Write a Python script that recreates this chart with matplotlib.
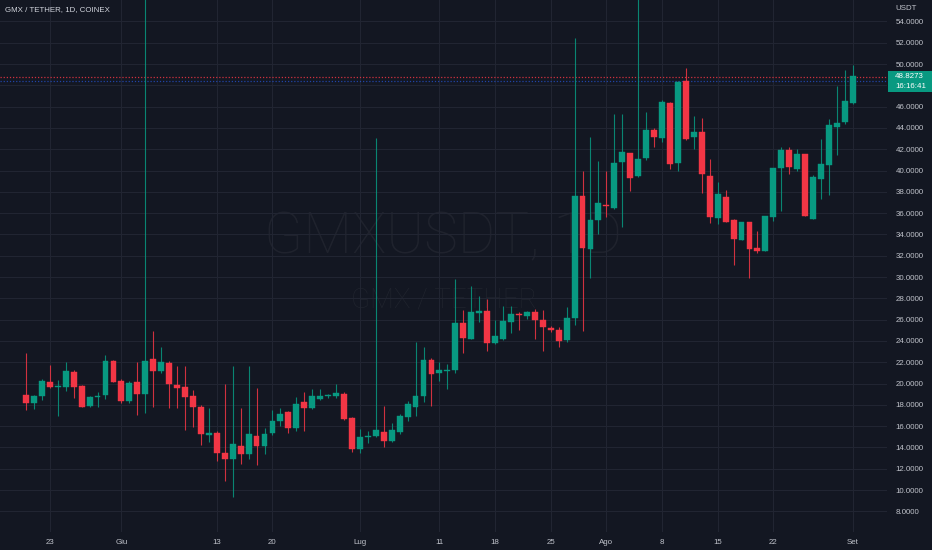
import matplotlib
matplotlib.use("Agg")
import matplotlib.pyplot as plt
import numpy as np
import pandas as pd

# ---------------- data (GMX/USDT daily, 20 May - 1 Sep) ----------------
dates = pd.date_range("2023-05-20", "2023-09-01", freq="D")

opens = [18.92, 18.20, 18.83, 20.14, 19.65, 19.64, 21.05, 19.79, 17.92, 18.75,
         18.89, 22.08, 20.26, 18.36, 20.11, 19.00, 22.30, 21.17, 21.95, 19.86,
         19.67, 18.83, 17.80, 15.20, 15.33, 13.50, 12.94, 14.13, 13.40, 15.07,
         14.10, 15.33, 16.50, 17.32, 15.82, 18.26, 17.70, 18.57, 18.80, 18.83,
         19.01, 16.73, 13.85, 14.95, 15.07, 15.47, 14.63, 15.45, 16.88, 17.82,
         18.86, 22.20, 21.00, 21.17, 21.30, 25.70, 24.20, 26.60, 26.80, 23.77,
         24.20, 25.80, 26.50, 26.30, 26.74, 26.00, 25.20, 25.00, 24.08, 26.12,
         37.63, 32.63, 35.32, 36.77, 36.50, 40.80, 41.60, 39.48, 41.17, 43.77,
         43.08, 46.37, 40.68, 48.37, 43.15, 43.60, 39.48, 35.54, 37.54, 35.35,
         33.47, 35.16, 32.72, 32.41, 35.66, 40.20, 41.92, 40.17, 41.55, 35.47,
         39.17, 40.49, 44.11, 44.55, 46.37]
highs = [22.89, 18.95, 20.40, 21.77, 20.30, 22.00, 21.27, 19.85, 18.85, 19.20,
         22.65, 22.20, 20.42, 20.20, 22.05, 57.00, 24.93, 23.40, 22.10, 21.60,
         21.60, 19.40, 18.00, 17.70, 15.50, 19.95, 21.60, 17.67, 21.60, 19.55,
         15.80, 17.48, 17.70, 17.45, 18.73, 19.17, 19.45, 19.45, 19.00, 19.92,
         19.20, 16.90, 15.73, 15.57, 43.05, 17.90, 16.32, 17.16, 18.40, 23.92,
         23.45, 22.40, 22.00, 21.80, 29.80, 26.90, 29.15, 28.20, 27.93, 25.96,
         27.30, 27.30, 26.70, 26.85, 27.00, 26.90, 25.40, 25.28, 27.20, 52.44,
         39.95, 43.12, 40.92, 39.95, 45.28, 45.28, 41.60, 57.00, 45.46, 44.00,
         46.60, 46.43, 48.43, 49.62, 45.10, 44.90, 41.08, 38.92, 38.14, 35.47,
         35.16, 35.16, 34.32, 35.76, 40.23, 42.18, 42.18, 42.05, 41.55, 39.55,
         42.96, 44.84, 47.93, 49.44, 49.90]
lows = [17.51, 17.60, 18.45, 19.60, 16.98, 19.30, 18.60, 17.75, 17.80, 17.80,
        18.52, 20.10, 18.20, 18.20, 17.04, 17.26, 17.80, 20.96, 17.73, 17.73,
        15.60, 15.95, 14.20, 14.50, 12.70, 10.87, 9.37, 12.47, 12.94, 12.35,
        13.35, 15.16, 16.04, 15.38, 15.57, 15.57, 17.64, 18.50, 18.60, 18.60,
        16.60, 13.60, 13.50, 14.40, 15.00, 14.00, 14.50, 15.30, 16.50, 16.95,
        18.24, 17.92, 20.23, 19.45, 20.96, 22.83, 24.18, 25.80, 23.10, 23.70,
        24.10, 24.70, 25.00, 26.10, 24.18, 23.10, 24.80, 23.43, 23.92, 25.50,
        24.96, 29.88, 34.00, 35.66, 36.38, 34.72, 38.10, 39.40, 40.96, 42.18,
        42.68, 40.10, 39.98, 42.90, 42.00, 37.92, 35.04, 34.98, 35.20, 31.13,
        33.47, 29.93, 32.22, 32.41, 35.26, 36.22, 39.64, 39.98, 35.73, 35.47,
        37.32, 37.67, 41.45, 44.37, 46.20]
closes = [18.17, 18.86, 20.23, 19.64, 19.70, 21.17, 19.70, 17.77, 18.73, 18.85,
          22.14, 20.14, 18.38, 20.05, 19.04, 22.14, 21.17, 22.00, 20.00, 19.58,
          18.76, 17.80, 15.23, 15.30, 13.45, 12.90, 14.32, 13.35, 15.26, 14.10,
          15.26, 16.48, 17.14, 15.82, 18.08, 17.70, 18.86, 18.83, 18.82, 19.08,
          16.67, 13.85, 15.00, 15.00, 15.60, 14.63, 15.66, 16.95, 18.08, 18.86,
          22.18, 20.92, 21.27, 21.20, 25.65, 24.30, 26.74, 26.80, 23.83, 24.46,
          25.87, 26.55, 26.40, 26.70, 25.96, 25.34, 25.00, 24.00, 26.12, 37.63,
          32.70, 35.38, 36.92, 36.65, 40.68, 41.74, 39.30, 41.10, 43.83, 43.15,
          46.43, 40.64, 48.30, 42.96, 43.64, 39.67, 35.60, 37.80, 35.20, 33.60,
          35.16, 32.60, 32.41, 35.76, 40.23, 41.92, 40.30, 41.55, 35.73, 39.36,
          40.58, 44.24, 44.46, 46.50, 48.83]

last_price_label = "48.8273"
countdown_label = "16:16:41"
last_price = 48.8273
bid_line = 48.43

tick_idx = [3, 12, 24, 31, 42, 52, 59, 66, 73, 80, 87, 94, 104]
tick_labels = ["23", "Giu", "13", "20", "Lug", "11", "18", "25", "Ago", "8", "15", "22", "Set"]
price_ticks = list(range(8, 56, 2))

# ---------------- style ----------------
BG = "#131722"
UP = "#089981"
DOWN = "#F23645"
GRID = "#212532"
TXT = "#C0C3CB"
FONT = "Liberation Sans"
FS = 5.7

plt.rcParams["font.family"] = [FONT, "DejaVu Sans"]

W, H = 932, 550
fig = plt.figure(figsize=(W / 100, H / 100), dpi=100, facecolor=BG)
ax = fig.add_axes([0, 18 / H, 887 / W, 532 / H])
ax.set_facecolor(BG)

o = np.array(opens); h = np.array(highs); l = np.array(lows); c = np.array(closes)
x = np.arange(len(dates))
up = c >= o
cols = np.where(up, UP, DOWN)

# watermark
ax.text(0.5, 0.553, "GMXUSDT, 1D", transform=ax.transAxes, ha="center", va="center",
        fontsize=41, color="#FFFFFF", alpha=0.05, family="Roboto", fontweight="light", zorder=0)
ax.text(0.5, 0.437, "GMX / TETHER", transform=ax.transAxes, ha="center", va="center",
        fontsize=20, color="#FFFFFF", alpha=0.05, family="Roboto", fontweight="light", zorder=0)

# wicks
ax.vlines(x, l, h, colors=cols, linewidths=0.8, alpha=0.85, zorder=2)
# bodies
bottoms = np.minimum(o, c)
heights = np.maximum(np.abs(c - o), 0.12)
ax.bar(x, heights, bottom=bottoms, width=0.74, color=cols, edgecolor=cols, linewidth=0.3, zorder=3)

# price lines
ax.axhline(last_price, color=DOWN, linestyle=(0, (1, 1.5)), linewidth=0.9, alpha=0.85, zorder=1)
ax.axhline(bid_line, color="#2962FF", linestyle=(0, (1, 1.5)), linewidth=0.9, alpha=0.6, zorder=1)

ax.set_xlim(-3.27, 108.3)
ax.set_ylim(6.06, 56.01)

ax.set_xticks(tick_idx)
ax.set_xticklabels(tick_labels)
ax.set_yticks(price_ticks)
ax.set_yticklabels([f"{v:.4f}" if v != 48 else "" for v in price_ticks])
ax.yaxis.tick_right()
ax.tick_params(axis="y", length=0, pad=6, labelsize=FS, labelcolor=TXT)
ax.tick_params(axis="x", length=0, pad=5, labelsize=FS, labelcolor=TXT)
ax.grid(True, color=GRID, linewidth=0.8)
ax.set_axisbelow(True)
for s in ax.spines.values():
    s.set_visible(False)

# title
fig.text(5 / W, 1 - 10 / H, "GMX / TETHER, 1D, COINEX", ha="left", va="center",
         fontsize=5.7, color="#D1D4DC")
# currency label
fig.text(895 / W, 1 - 8 / H, "USDT", ha="left", va="center", fontsize=FS, color=TXT)

# last price box
y_px = 64 + (50 - last_price) * 10.65
box_top = y_px - 5
fig.patches.append(plt.Rectangle((888 / W, 1 - (box_top + 21) / H), 44 / W, 21 / H,
                                 transform=fig.transFigure, facecolor=UP, edgecolor="none", zorder=5))
fig.text(895 / W, 1 - (box_top + 5.5) / H, last_price_label, ha="left", va="center",
         fontsize=FS, color="white", zorder=6)
fig.text(895 / W, 1 - (box_top + 15.5) / H, countdown_label, ha="left", va="center",
         fontsize=FS, color="white", zorder=6)

fig.savefig("out.png", dpi=100, facecolor=BG)
